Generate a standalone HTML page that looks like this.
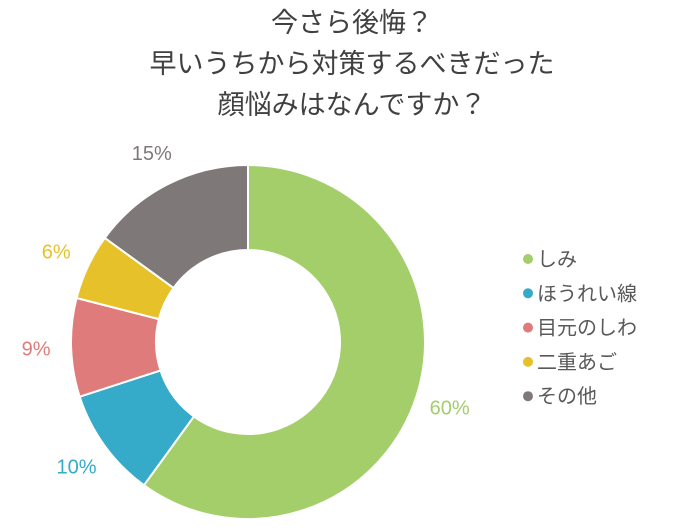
<!DOCTYPE html>
<html><head><meta charset="utf-8">
<style>
body{margin:0;background:#fff;width:700px;height:527px;overflow:hidden;font-family:"Liberation Sans","Noto Sans CJK JP",sans-serif;}
</style></head>
<body>
<svg width="700" height="527" viewBox="0 0 700 527">
<g font-size="27" fill="#404040" text-anchor="middle">
<text x="352" y="32">今さら後悔？</text>
<text x="352" y="73">早いうちから対策するべきだった</text>
<text x="352" y="114">顔悩みはなんですか？</text>
</g>
<g id="slices"></g>
<g id="labels" font-size="20"></g>
<g id="legend" font-size="20" fill="#595959"></g>
</svg>
<script>
const categories=["しみ","ほうれい線","目元のしわ","二重あご","その他"];
const values=[60,10,9,6,15];
const colors=["#a3ce6a","#36aac9","#e07b7b","#e7c12a","#7f7878"];
const cx=248,cy=342,R=177,r=92;
const total=values.reduce((a,b)=>a+b,0);
const NS="http://www.w3.org/2000/svg";
const sg=document.getElementById('slices'),lg=document.getElementById('labels'),leg=document.getElementById('legend');
function pt(a,rad){return [cx+rad*Math.sin(a),cy-rad*Math.cos(a)];}
let acc=0;
values.forEach((v,i)=>{
 const a0=acc/total*2*Math.PI;acc+=v;const a1=acc/total*2*Math.PI;
 const lf=(a1-a0)>Math.PI?1:0;
 const p0=pt(a0,R),p1=pt(a1,R),q1=pt(a1,r),q0=pt(a0,r);
 const p=document.createElementNS(NS,'path');
 p.setAttribute('d',`M${p0[0]},${p0[1]}A${R},${R} 0 ${lf} 1 ${p1[0]},${p1[1]}L${q1[0]},${q1[1]}A${r},${r} 0 ${lf} 0 ${q0[0]},${q0[1]}Z`);
 p.setAttribute('fill',colors[i]);p.setAttribute('stroke','#fff');p.setAttribute('stroke-width','2');
 
 
 sg.appendChild(p);
 const am=(a0+a1)/2,lp=pt(am,R+35);
 const t=document.createElementNS(NS,'text');
 t.setAttribute('x',lp[0]);t.setAttribute('y',lp[1]+7);t.setAttribute('text-anchor','middle');
 t.setAttribute('fill',colors[i]);t.textContent=v+'%';
 
 
 lg.appendChild(t);
 const y=259+i*34.3;
 const c=document.createElementNS(NS,'circle');
 c.setAttribute('cx',528);c.setAttribute('cy',y);c.setAttribute('r',5);c.setAttribute('fill',colors[i]);
 
 
 leg.appendChild(c);
 const lt=document.createElementNS(NS,'text');
 lt.setAttribute('x',537);lt.setAttribute('y',y+7);lt.textContent=categories[i];
 
 
 leg.appendChild(lt);
});
</script>
</body></html>
